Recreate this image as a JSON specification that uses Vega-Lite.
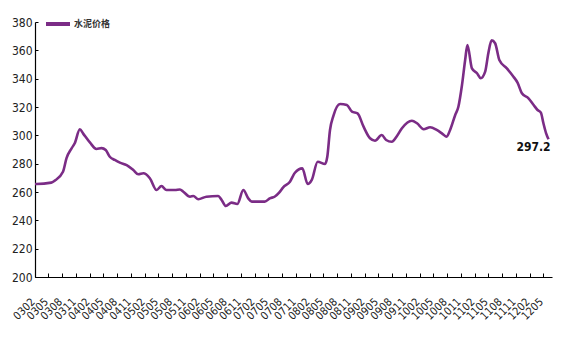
{
  "$schema": "https://vega.github.io/schema/vega-lite/v6.json",
  "width": 517,
  "height": 255,
  "autosize": {"type": "none"},
  "padding": {"left": 35, "top": 22, "right": 15, "bottom": 60},
  "background": "white",
  "config": {
    "view": {"stroke": null},
    "font": "Liberation Sans Narrow, DejaVu Sans Condensed, Liberation Sans, Arial"
  },
  "data": {
    "values": [
      {"date": "2003-02-01T00:00:00", "price": 265.6, "s": "水泥价格"},
      {"date": "2003-02-12T00:00:00", "price": 265.6, "s": "水泥价格"},
      {"date": "2003-05-20T00:00:00", "price": 266.6, "s": "水泥价格"},
      {"date": "2003-06-12T00:00:00", "price": 268.0, "s": "水泥价格"},
      {"date": "2003-08-06T00:00:00", "price": 274.3, "s": "水泥价格"},
      {"date": "2003-08-29T00:00:00", "price": 283.8, "s": "水泥价格"},
      {"date": "2003-10-02T00:00:00", "price": 290.8, "s": "水泥价格"},
      {"date": "2003-10-23T00:00:00", "price": 294.4, "s": "水泥价格"},
      {"date": "2003-11-26T00:00:00", "price": 304.3, "s": "水泥价格"},
      {"date": "2003-12-17T00:00:00", "price": 301.4, "s": "水泥价格"},
      {"date": "2004-02-02T00:00:00", "price": 294.8, "s": "水泥价格"},
      {"date": "2004-03-15T00:00:00", "price": 290.4, "s": "水泥价格"},
      {"date": "2004-04-18T00:00:00", "price": 291.0, "s": "水泥价格"},
      {"date": "2004-05-16T00:00:00", "price": 289.6, "s": "水泥价格"},
      {"date": "2004-06-12T00:00:00", "price": 284.9, "s": "水泥价格"},
      {"date": "2004-07-15T00:00:00", "price": 282.6, "s": "水泥价格"},
      {"date": "2004-08-18T00:00:00", "price": 280.7, "s": "水泥价格"},
      {"date": "2004-10-02T00:00:00", "price": 279.0, "s": "水泥价格"},
      {"date": "2004-11-15T00:00:00", "price": 275.5, "s": "水泥价格"},
      {"date": "2004-12-18T00:00:00", "price": 272.5, "s": "水泥价格"},
      {"date": "2005-01-21T00:00:00", "price": 273.2, "s": "水泥价格"},
      {"date": "2005-03-05T00:00:00", "price": 269.7, "s": "水泥价格"},
      {"date": "2005-04-19T00:00:00", "price": 261.4, "s": "水泥价格"},
      {"date": "2005-05-21T00:00:00", "price": 264.2, "s": "水泥价格"},
      {"date": "2005-06-24T00:00:00", "price": 261.4, "s": "水泥价格"},
      {"date": "2005-08-19T00:00:00", "price": 261.4, "s": "水泥价格"},
      {"date": "2005-09-21T00:00:00", "price": 261.8, "s": "水泥价格"},
      {"date": "2005-10-13T00:00:00", "price": 260.2, "s": "水泥价格"},
      {"date": "2005-11-27T00:00:00", "price": 256.7, "s": "水泥价格"},
      {"date": "2005-12-19T00:00:00", "price": 257.2, "s": "水泥价格"},
      {"date": "2006-01-21T00:00:00", "price": 254.9, "s": "水泥价格"},
      {"date": "2006-03-16T00:00:00", "price": 256.7, "s": "水泥价格"},
      {"date": "2006-06-02T00:00:00", "price": 257.2, "s": "水泥价格"},
      {"date": "2006-06-25T00:00:00", "price": 254.4, "s": "水泥价格"},
      {"date": "2006-07-23T00:00:00", "price": 250.1, "s": "水泥价格"},
      {"date": "2006-08-30T00:00:00", "price": 252.5, "s": "水泥价格"},
      {"date": "2006-10-07T00:00:00", "price": 251.5, "s": "水泥价格"},
      {"date": "2006-11-16T00:00:00", "price": 261.4, "s": "水泥价格"},
      {"date": "2006-12-19T00:00:00", "price": 255.5, "s": "水泥价格"},
      {"date": "2007-01-11T00:00:00", "price": 253.2, "s": "水泥价格"},
      {"date": "2007-04-08T00:00:00", "price": 253.2, "s": "水泥价格"},
      {"date": "2007-05-11T00:00:00", "price": 255.5, "s": "水泥价格"},
      {"date": "2007-06-14T00:00:00", "price": 256.8, "s": "水泥价格"},
      {"date": "2007-07-12T00:00:00", "price": 259.5, "s": "水泥价格"},
      {"date": "2007-08-08T00:00:00", "price": 263.3, "s": "水泥价格"},
      {"date": "2007-09-22T00:00:00", "price": 267.3, "s": "水泥价格"},
      {"date": "2007-10-25T00:00:00", "price": 273.6, "s": "水泥价格"},
      {"date": "2007-12-13T00:00:00", "price": 276.7, "s": "水泥价格"},
      {"date": "2008-01-18T00:00:00", "price": 265.6, "s": "水泥价格"},
      {"date": "2008-02-14T00:00:00", "price": 268.5, "s": "水泥价格"},
      {"date": "2008-03-24T00:00:00", "price": 281.4, "s": "水泥价格"},
      {"date": "2008-05-12T00:00:00", "price": 279.8, "s": "水泥价格"},
      {"date": "2008-05-27T00:00:00", "price": 284.9, "s": "水泥价格"},
      {"date": "2008-06-14T00:00:00", "price": 303.8, "s": "水泥价格"},
      {"date": "2008-07-06T00:00:00", "price": 313.6, "s": "水泥价格"},
      {"date": "2008-08-20T00:00:00", "price": 322.1, "s": "水泥价格"},
      {"date": "2008-10-04T00:00:00", "price": 321.4, "s": "水泥价格"},
      {"date": "2008-11-07T00:00:00", "price": 316.7, "s": "水泥价格"},
      {"date": "2008-12-14T00:00:00", "price": 315.5, "s": "水泥价格"},
      {"date": "2009-01-23T00:00:00", "price": 306.1, "s": "水泥价格"},
      {"date": "2009-03-07T00:00:00", "price": 297.9, "s": "水泥价格"},
      {"date": "2009-04-09T00:00:00", "price": 296.2, "s": "水泥价格"},
      {"date": "2009-05-24T00:00:00", "price": 300.2, "s": "水泥价格"},
      {"date": "2009-06-22T00:00:00", "price": 296.7, "s": "水泥价格"},
      {"date": "2009-07-29T00:00:00", "price": 295.5, "s": "水泥价格"},
      {"date": "2009-09-02T00:00:00", "price": 299.5, "s": "水泥价格"},
      {"date": "2009-10-05T00:00:00", "price": 305.0, "s": "水泥价格"},
      {"date": "2009-12-10T00:00:00", "price": 310.3, "s": "水泥价格"},
      {"date": "2010-01-13T00:00:00", "price": 308.5, "s": "水泥价格"},
      {"date": "2010-02-26T00:00:00", "price": 304.3, "s": "水泥价格"},
      {"date": "2010-04-10T00:00:00", "price": 305.7, "s": "水泥价格"},
      {"date": "2010-05-24T00:00:00", "price": 303.8, "s": "水泥价格"},
      {"date": "2010-07-03T00:00:00", "price": 300.9, "s": "水泥价格"},
      {"date": "2010-07-29T00:00:00", "price": 299.0, "s": "水泥价格"},
      {"date": "2010-08-21T00:00:00", "price": 303.8, "s": "水泥价格"},
      {"date": "2010-09-24T00:00:00", "price": 314.4, "s": "水泥价格"},
      {"date": "2010-10-15T00:00:00", "price": 320.2, "s": "水泥价格"},
      {"date": "2010-11-08T00:00:00", "price": 335.5, "s": "水泥价格"},
      {"date": "2010-11-29T00:00:00", "price": 353.2, "s": "水泥价格"},
      {"date": "2010-12-14T00:00:00", "price": 363.8, "s": "水泥价格"},
      {"date": "2011-01-13T00:00:00", "price": 347.3, "s": "水泥价格"},
      {"date": "2011-02-16T00:00:00", "price": 343.8, "s": "水泥价格"},
      {"date": "2011-03-12T00:00:00", "price": 340.3, "s": "水泥价格"},
      {"date": "2011-04-11T00:00:00", "price": 345.0, "s": "水泥价格"},
      {"date": "2011-05-02T00:00:00", "price": 358.0, "s": "水泥价格"},
      {"date": "2011-05-24T00:00:00", "price": 367.0, "s": "水泥价格"},
      {"date": "2011-06-16T00:00:00", "price": 365.0, "s": "水泥价格"},
      {"date": "2011-07-14T00:00:00", "price": 353.2, "s": "水泥价格"},
      {"date": "2011-09-02T00:00:00", "price": 347.3, "s": "水泥价格"},
      {"date": "2011-10-16T00:00:00", "price": 341.4, "s": "水泥价格"},
      {"date": "2011-11-12T00:00:00", "price": 337.2, "s": "水泥价格"},
      {"date": "2011-12-11T00:00:00", "price": 329.7, "s": "水泥价格"},
      {"date": "2012-01-24T00:00:00", "price": 326.1, "s": "水泥价格"},
      {"date": "2012-02-27T00:00:00", "price": 321.4, "s": "水泥价格"},
      {"date": "2012-03-24T00:00:00", "price": 317.9, "s": "水泥价格"},
      {"date": "2012-04-15T00:00:00", "price": 316.0, "s": "水泥价格"},
      {"date": "2012-05-02T00:00:00", "price": 308.5, "s": "水泥价格"},
      {"date": "2012-05-20T00:00:00", "price": 301.4, "s": "水泥价格"},
      {"date": "2012-06-05T00:00:00", "price": 297.2, "s": "水泥价格", "last": true}
    ]
  },
  "encoding": {
    "x": {
      "field": "date",
      "type": "temporal",
      "scale": {"domain": [{"year": 2003, "month": 2, "date": 1}, {"year": 2012, "month": 6, "date": 28}]},
      "axis": {
        "title": null,
        "format": "%y%m",
        "values": [
          {"year": 2003, "month": 2, "date": 1}, {"year": 2003, "month": 5, "date": 1}, {"year": 2003, "month": 8, "date": 1}, {"year": 2003, "month": 11, "date": 1},
          {"year": 2004, "month": 2, "date": 1}, {"year": 2004, "month": 5, "date": 1}, {"year": 2004, "month": 8, "date": 1}, {"year": 2004, "month": 11, "date": 1},
          {"year": 2005, "month": 2, "date": 1}, {"year": 2005, "month": 5, "date": 1}, {"year": 2005, "month": 8, "date": 1}, {"year": 2005, "month": 11, "date": 1},
          {"year": 2006, "month": 2, "date": 1}, {"year": 2006, "month": 5, "date": 1}, {"year": 2006, "month": 8, "date": 1}, {"year": 2006, "month": 11, "date": 1},
          {"year": 2007, "month": 2, "date": 1}, {"year": 2007, "month": 5, "date": 1}, {"year": 2007, "month": 8, "date": 1}, {"year": 2007, "month": 11, "date": 1},
          {"year": 2008, "month": 2, "date": 1}, {"year": 2008, "month": 5, "date": 1}, {"year": 2008, "month": 8, "date": 1}, {"year": 2008, "month": 11, "date": 1},
          {"year": 2009, "month": 2, "date": 1}, {"year": 2009, "month": 5, "date": 1}, {"year": 2009, "month": 8, "date": 1}, {"year": 2009, "month": 11, "date": 1},
          {"year": 2010, "month": 2, "date": 1}, {"year": 2010, "month": 5, "date": 1}, {"year": 2010, "month": 8, "date": 1}, {"year": 2010, "month": 11, "date": 1},
          {"year": 2011, "month": 2, "date": 1}, {"year": 2011, "month": 5, "date": 1}, {"year": 2011, "month": 8, "date": 1}, {"year": 2011, "month": 11, "date": 1},
          {"year": 2012, "month": 2, "date": 1}, {"year": 2012, "month": 5, "date": 1}
        ],
        "labelAngle": -45,
        "labelAlign": "right",
        "labelBaseline": "middle",
        "labelOverlap": false,
        "labelFontSize": 11,
        "labelColor": "#222",
        "labelPadding": 27,
        "labelOffset": -2,
        "tickSize": -4,
        "tickColor": "#000",
        "domainColor": "#000",
        "domainWidth": 1.2,
        "grid": false
      }
    },
    "y": {
      "field": "price",
      "type": "quantitative",
      "scale": {"domain": [200, 380], "nice": false, "zero": false},
      "axis": {
        "title": null,
        "values": [200, 220, 240, 260, 280, 300, 320, 340, 360, 380],
        "labelFontSize": 12,
        "labelColor": "#222",
        "labelPadding": 6,
        "tickSize": -3,
        "tickColor": "#000",
        "domainColor": "#000",
        "domainWidth": 1.2,
        "grid": false
      }
    }
  },
  "layer": [
    {
      "mark": {"type": "line", "strokeWidth": 2.6, "interpolate": "monotone"},
      "encoding": {
        "color": {
          "field": "s",
          "type": "nominal",
          "scale": {"range": ["#7B2C86"]},
          "legend": {
            "title": null,
            "orient": "none",
            "legendX": 9,
            "legendY": -12,
            "symbolType": "stroke",
            "symbolSize": 576,
            "symbolStrokeWidth": 4,
            "labelFont": "Noto Sans CJK SC",
            "labelFontSize": 9,
            "labelFontWeight": "bold",
            "labelColor": "#333",
            "labelOffset": 2,
            "padding": 0
          }
        }
      }
    },
    {
      "transform": [{"filter": "datum.last === true"}],
      "mark": {"type": "text", "align": "right", "baseline": "top", "dx": 2, "dy": 3, "fontSize": 12, "fontWeight": "bold", "color": "#111"},
      "encoding": {"text": {"field": "price", "type": "quantitative", "format": ".1f"}}
    }
  ]
}
